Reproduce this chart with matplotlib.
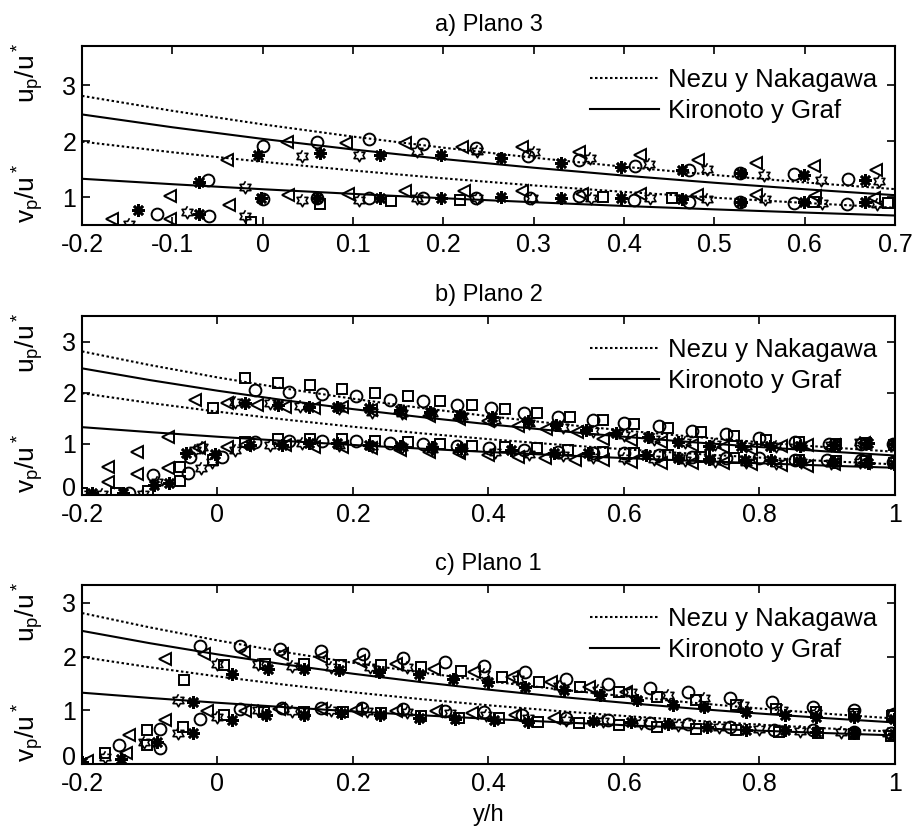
import numpy as np
import matplotlib
matplotlib.use('Agg')
import matplotlib.pyplot as plt
from matplotlib.transforms import ScaledTranslation

plt.rcParams['font.family'] = ['Liberation Sans', 'DejaVu Sans']
plt.rcParams['mathtext.default'] = 'regular'
plt.rcParams['font.size'] = 17

# model curves
curve_x = [-0.2, -0.1, 0.0, 0.1, 0.2, 0.3, 0.4, 0.5, 0.6, 0.7, 0.8, 0.9, 1.0]
nezu_u = [2.809, 2.542, 2.30, 2.081, 1.883, 1.704, 1.542, 1.395, 1.262, 1.142, 1.033, 0.935, 0.846]
nezu_v = [1.991, 1.801, 1.63, 1.475, 1.335, 1.208, 1.093, 0.989, 0.895, 0.809, 0.732, 0.663, 0.600]
kg_u = [2.477, 2.248, 2.04, 1.851, 1.680, 1.525, 1.384, 1.256, 1.140, 1.034, 0.939, 0.852, 0.773]
kg_v = [1.327, 1.230, 1.14, 1.057, 0.979, 0.908, 0.841, 0.780, 0.723, 0.670, 0.621, 0.575, 0.533]

# ---- a) Plano 3 ----
a_circ_x = [0.0, 0.06, 0.118, 0.177, 0.236, 0.294, 0.35, 0.412, 0.472, 0.529, 0.588, 0.648,
            -0.06, -0.117, -0.059, 0.0, 0.06, 0.118, 0.177, 0.236, 0.296, 0.35, 0.411, 0.472, 0.529, 0.588, 0.647]
a_circ_y = [1.91, 1.99, 2.04, 1.94, 1.87, 1.74, 1.67, 1.55, 1.49, 1.43, 1.42, 1.33,
            1.30, 0.70, 0.66, 0.96, 0.98, 0.99, 0.99, 0.99, 0.98, 1.02, 0.95, 0.92, 0.92, 0.89, 0.87]
a_sq_x = [-0.013, 0.063, 0.142, 0.219, 0.377, 0.453, 0.61, 0.692]
a_sq_y = [0.56, 0.87, 0.93, 0.95, 1.0, 0.98, 0.92, 0.90]
a_tri_x = [-0.04, 0.027, 0.092, 0.158, 0.221, 0.287, 0.35, 0.418, 0.482, 0.546, 0.61, 0.679,
           -0.167, -0.103, -0.103, -0.037, 0.028, 0.094, 0.158, 0.223, 0.287, 0.353, 0.418, 0.481, 0.546, 0.612, 0.677]
a_tri_y = [1.66, 1.98, 1.96, 1.96, 1.90, 1.89, 1.81, 1.75, 1.67, 1.61, 1.55, 1.49,
           0.60, 0.60, 1.02, 0.86, 1.03, 1.05, 1.11, 1.11, 1.10, 1.06, 1.06, 1.03, 1.03, 1.02, 0.99]
a_ast_x = [-0.005, 0.063, 0.13, 0.197, 0.264, 0.33, 0.397, 0.464, 0.53, 0.599, 0.667,
           -0.138, -0.071, -0.071, -0.002, 0.06, 0.13, 0.197, 0.264, 0.33, 0.397, 0.464, 0.53, 0.599, 0.667]
a_ast_y = [1.75, 1.78, 1.75, 1.75, 1.69, 1.61, 1.54, 1.48, 1.43, 1.39, 1.31,
           0.77, 1.27, 0.70, 0.99, 0.99, 0.99, 0.99, 1.0, 0.98, 0.99, 0.96, 0.92, 0.92, 0.92]
a_hex_x = [0.044, 0.107, 0.171, 0.237, 0.30, 0.362, 0.428, 0.492, 0.555, 0.618, 0.682,
           -0.148, -0.084, -0.02, -0.02, 0.044, 0.107, 0.171, 0.237, 0.298, 0.363, 0.429, 0.492, 0.556, 0.619, 0.68]
a_hex_y = [1.73, 1.76, 1.82, 1.83, 1.81, 1.70, 1.60, 1.51, 1.39, 1.31, 1.29,
           0.51, 0.74, 1.18, 0.66, 0.95, 0.95, 0.98, 0.99, 0.98, 0.99, 0.98, 0.96, 0.96, 0.90, 0.87]

# ---- b) Plano 2 ----
b_circ_x = [0.056, 0.105, 0.155, 0.204, 0.255, 0.304, 0.353, 0.404, 0.453, 0.502, 0.554, 0.60, 0.652,
            0.70, 0.751, 0.80, 0.852, 0.903, 0.95, 0.997,
            -0.13, -0.095, -0.043, -0.04, 0.007, 0.056, 0.105, 0.154, 0.204, 0.255, 0.304, 0.353, 0.401,
            0.453, 0.502, 0.554, 0.60, 0.652, 0.70, 0.751, 0.80, 0.852, 0.90, 0.95, 0.997]
b_circ_y = [2.05, 2.01, 1.97, 1.93, 1.86, 1.83, 1.76, 1.70, 1.60, 1.53, 1.47, 1.40, 1.34,
            1.26, 1.20, 1.11, 1.03, 1.00, 1.00, 1.00,
            0.03, 0.39, 0.43, 0.75, 0.75, 1.04, 1.06, 1.06, 1.06, 1.02, 1.0, 0.95, 0.91,
            0.88, 0.85, 0.83, 0.82, 0.78, 0.75, 0.72, 0.72, 0.69, 0.69, 0.69, 0.64]
b_sq_x = [-0.006, 0.041, 0.09, 0.137, 0.184, 0.233, 0.281, 0.329, 0.376, 0.424, 0.472, 0.52, 0.569,
          0.615, 0.665, 0.714, 0.762, 0.81, 0.859, 0.913, 0.957, 0.998,
          -0.2, -0.15, -0.102, -0.055, -0.055, -0.006, 0.041, 0.09, 0.137, 0.184, 0.233, 0.281, 0.329,
          0.376, 0.424, 0.472, 0.517, 0.569, 0.615, 0.665, 0.714, 0.763, 0.859, 0.913, 0.957, 0.998]
b_sq_y = [1.70, 2.29, 2.20, 2.16, 2.07, 1.99, 1.94, 1.83, 1.76, 1.68, 1.61, 1.53, 1.47,
          1.38, 1.31, 1.24, 1.16, 1.08, 1.03, 1.00, 1.01, 0.97,
          0.03, 0.03, 0.07, 0.28, 0.54, 0.69, 1.04, 1.09, 1.09, 1.09, 1.06, 1.04, 1.0,
          0.96, 0.93, 0.91, 0.88, 0.85, 0.82, 0.78, 0.75, 0.72, 0.69, 0.67, 0.67, 0.62]
b_tri_x = [-0.033, 0.014, 0.058, 0.10, 0.142, 0.184, 0.226, 0.27, 0.312, 0.356, 0.40, 0.443, 0.485,
           0.53, 0.569, 0.61, 0.655, 0.70, 0.746, 0.788, 0.832, 0.87, 0.91, 0.955,
           -0.162, -0.162, -0.119, -0.119, -0.073, -0.073, -0.028, 0.014, 0.041, 0.10, 0.142, 0.184,
           0.227, 0.27, 0.312, 0.356, 0.40, 0.443, 0.483, 0.527, 0.569, 0.61, 0.655, 0.70, 0.746,
           0.788, 0.832, 0.87, 0.91, 0.955]
b_tri_y = [1.86, 1.79, 1.76, 1.73, 1.70, 1.73, 1.67, 1.61, 1.54, 1.48, 1.44, 1.34, 1.29,
           1.24, 1.09, 1.08, 1.03, 0.98, 0.93, 0.90, 0.95, 0.98, 0.98, 1.02,
           0.55, 0.25, 0.84, 0.41, 1.14, 0.52, 0.91, 0.93, 0.98, 0.98, 0.93, 0.93,
           0.91, 0.89, 0.85, 0.82, 0.78, 0.75, 0.72, 0.69, 0.69, 0.65, 0.62, 0.62, 0.63,
           0.61, 0.59, 0.57, 0.60, 0.62]
b_ast_x = [0.041, 0.09, 0.135, 0.176, 0.223, 0.27, 0.314, 0.358, 0.405, 0.458, 0.50, 0.544, 0.588,
           0.635, 0.68, 0.726, 0.773, 0.815, 0.86, 0.91, 0.96, 0.998,
           -0.185, -0.14, -0.094, -0.071, -0.047, -0.003, 0.048, 0.095, 0.135, 0.176, 0.223, 0.27,
           0.316, 0.36, 0.433, 0.497, 0.547, 0.633, 0.68, 0.726, 0.778, 0.817, 0.86, 0.91, 0.96, 0.998]
b_ast_y = [1.79, 1.76, 1.73, 1.73, 1.70, 1.67, 1.63, 1.57, 1.52, 1.44, 1.37, 1.27, 1.21,
           1.14, 1.045, 0.96, 0.95, 0.95, 0.96, 0.98, 1.01, 0.99,
           0.03, 0.03, 0.20, 0.23, 0.82, 0.80, 0.98, 0.98, 1.01, 1.02, 0.98, 0.96,
           0.93, 0.91, 0.89, 0.83, 0.82, 0.78, 0.72, 0.70, 0.69, 0.69, 0.66, 0.64, 0.63, 0.61]
b_hex_x = [0.026, 0.078, 0.122, 0.179, 0.228, 0.272, 0.317, 0.361, 0.41, 0.46, 0.51, 0.555, 0.60,
           0.645, 0.69, 0.735, 0.78, 0.825, 0.861, 0.905, 0.948,
           -0.2, -0.17, -0.11, -0.09, -0.033, -0.023, -0.025, -0.008, 0.026, 0.078, 0.125, 0.179,
           0.228, 0.272, 0.317, 0.361, 0.41, 0.46, 0.51, 0.555, 0.60, 0.645, 0.69, 0.735, 0.78,
           0.825, 0.861, 0.905, 0.948]
b_hex_y = [1.82, 1.79, 1.74, 1.70, 1.63, 1.60, 1.60, 1.54, 1.47, 1.40, 1.33, 1.25, 1.18,
           1.10, 1.04, 0.99, 0.96, 0.95, 0.98, 0.98, 1.03,
           0.02, 0.02, 0.02, 0.25, 0.89, 0.93, 0.52, 0.65, 0.89, 0.98, 1.01, 0.98,
           0.96, 0.93, 0.90, 0.87, 0.84, 0.80, 0.78, 0.75, 0.73, 0.70, 0.68, 0.66, 0.65,
           0.63, 0.64, 0.63, 0.64]

# ---- c) Plano 1 ----
c_circ_x = [-0.026, 0.033, 0.093, 0.153, 0.215, 0.274, 0.336, 0.393, 0.454, 0.515, 0.577, 0.638,
            0.695, 0.756, 0.818, 0.879, 0.94, 0.998,
            -0.146, -0.085, -0.085, -0.026, 0.033, 0.095, 0.153, 0.213, 0.274, 0.336, 0.393, 0.45,
            0.515, 0.577, 0.638, 0.695, 0.756, 0.821, 0.879, 0.94, 0.994]
c_circ_y = [2.19, 2.19, 2.14, 2.11, 2.05, 1.98, 1.89, 1.83, 1.71, 1.59, 1.49, 1.42,
            1.34, 1.22, 1.15, 1.07, 1.01, 0.93,
            0.35, 0.66, 0.29, 0.83, 1.03, 1.05, 1.05, 1.05, 1.03, 0.99, 0.97, 0.91,
            0.86, 0.81, 0.76, 0.74, 0.69, 0.64, 0.63, 0.60, 0.57]
c_sq_x = [-0.049, 0.01, 0.07, 0.127, 0.183, 0.242, 0.30, 0.359, 0.42, 0.475, 0.535, 0.592, 0.649,
          0.707, 0.766, 0.825, 0.883, 0.94, 0.995,
          -0.166, -0.104, -0.104, -0.051, 0.01, 0.068, 0.127, 0.186, 0.242, 0.30, 0.357, 0.416,
          0.473, 0.533, 0.592, 0.649, 0.707, 0.766, 0.829, 0.886, 0.94, 0.994]
c_sq_y = [1.57, 1.84, 1.86, 1.87, 1.85, 1.85, 1.80, 1.73, 1.62, 1.52, 1.43, 1.34, 1.25,
          1.19, 1.09, 1.03, 0.96, 0.93, 0.90,
          0.20, 0.64, 0.35, 0.69, 0.91, 0.97, 0.97, 0.97, 0.95, 0.89, 0.86, 0.85,
          0.78, 0.76, 0.72, 0.69, 0.66, 0.63, 0.60, 0.58, 0.56, 0.52]
c_tri_x = [-0.078, -0.02, 0.039, 0.095, 0.153, 0.209, 0.263, 0.32, 0.378, 0.435, 0.492, 0.548, 0.603,
           -0.192, -0.135, -0.131, -0.078, -0.016, 0.041, 0.091, 0.153, 0.205, 0.263, 0.322, 0.375,
           0.439, 0.496]
c_tri_y = [1.96, 2.05, 2.08, 2.05, 1.99, 1.91, 1.86, 1.77, 1.71, 1.62, 1.52, 1.43, 1.34,
           0.06, 0.20, 0.54, 0.81, 0.99, 0.99, 1.03, 1.03, 1.01, 0.99, 0.98, 0.95,
           0.91, 0.86]
c_ast_x = [0.022, 0.074, 0.127, 0.179, 0.238, 0.297, 0.347, 0.40, 0.454, 0.512, 0.565, 0.619, 0.672,
           0.718, 0.78, 0.837, 0.883, 0.94, 0.998,
           -0.2, -0.143, -0.089, -0.036, -0.036, 0.022, 0.072, 0.127, 0.183, 0.24, 0.297, 0.351,
           0.408, 0.458, 0.554, 0.611, 0.665, 0.722, 0.78, 0.837, 0.883, 0.94, 0.998]
c_ast_y = [1.68, 1.77, 1.77, 1.75, 1.71, 1.68, 1.59, 1.52, 1.43, 1.37, 1.28, 1.19, 1.09,
           1.06, 0.97, 0.91, 0.88, 0.88, 0.83,
           0.03, 0.10, 0.41, 0.57, 1.15, 0.82, 0.91, 0.91, 0.94, 0.91, 0.86, 0.83,
           0.81, 0.78, 0.80, 0.78, 0.74, 0.69, 0.63, 0.63, 0.60, 0.58, 0.55]
c_hex_x = [0.0, 0.06, 0.11, 0.167, 0.225, 0.28, 0.393, 0.443, 0.504, 0.561, 0.611, 0.665, 0.718,
           0.776, 0.834, 0.883, 0.94,
           -0.166, -0.108, -0.058, -0.058, 0.0, 0.06, 0.11, 0.167, 0.221, 0.28, 0.343, 0.397,
           0.458, 0.515, 0.569, 0.625, 0.68, 0.74, 0.80, 0.86, 0.92, 0.99]
c_hex_y = [1.86, 1.86, 1.83, 1.80, 1.80, 1.80, 1.68, 1.59, 1.46, 1.37, 1.34, 1.28, 1.22,
           1.09, 1.0, 0.94, 0.93,
           0.13, 0.41, 0.57, 1.19, 0.88, 1.01, 0.99, 1.01, 0.99, 0.97, 0.94, 0.91,
           0.86, 0.81, 0.80, 0.76, 0.72, 0.68, 0.65, 0.62, 0.60, 0.58]

# hexagram marker (MATLAB 'h')
ang = np.deg2rad(90 + 30 * np.arange(12))
rad = np.where(np.arange(12) % 2 == 0, 1.0, 1 / np.sqrt(3))
hexagram = list(zip(rad * np.cos(ang), rad * np.sin(ang)))

mk_style = {
    'circ': dict(marker='o', ms=8.5, mew=1.4),
    'sq': dict(marker='s', ms=7.5, mew=1.4),
    'tri': dict(marker='<', ms=9, mew=1.4),
    'ast': dict(marker=(8, 2, 0), ms=9, mew=1.9),
    'hex': dict(marker=hexagram, ms=9, mew=1.2),
}


def draw_panel(rect, title, xmax, ylim, xticks, xlabels, yticks, pts):
    ax = fig.add_axes(rect)
    n = 10 if xmax < 1 else 13
    ax.plot(curve_x[:n], nezu_u[:n], color='k', ls=(0, (1.2, 1.2)), lw=1.5, label='Nezu y Nakagawa')
    ax.plot(curve_x[:n], kg_u[:n], color='k', ls='-', lw=1.5, label='Kironoto y Graf')
    ax.plot(curve_x[:n], nezu_v[:n], color='k', ls=(0, (1.2, 1.2)), lw=1.5)
    ax.plot(curve_x[:n], kg_v[:n], color='k', ls='-', lw=1.5)
    for key, (xs, ys) in pts.items():
        st = mk_style[key]
        ax.plot(xs, ys, ls='none', marker=st['marker'], ms=st['ms'], mew=st['mew'],
                mfc='none', mec='k')
    ax.set_xlim(-0.2, xmax)
    ax.set_ylim(*ylim)
    ax.set_xticks(xticks)
    ax.set_xticklabels(xlabels)
    ax.set_yticks(yticks)
    ax.tick_params(direction='in', length=6, width=1.2, top=True, right=True, labelsize=18)
    ax.tick_params(axis='x', pad=5.5)
    ax.tick_params(axis='y', pad=4)
    # lift the "0" label a little so it clears the "-0.2" below it
    if yticks[0] == 0:
        lab = ax.yaxis.get_major_ticks()[0].label1
        lab.set_transform(lab.get_transform() + ScaledTranslation(0, 0.085, fig.dpi_scale_trans))
    for s in ax.spines.values():
        s.set_linewidth(1.5)
    ax.set_title(title, fontsize=17, pad=11)
    ax.text(-0.066, 0.85, '$u_p/u^*$', transform=ax.transAxes, rotation=90,
            ha='center', va='center', fontsize=19)
    ax.text(-0.066, 0.175, '$v_p/u^*$', transform=ax.transAxes, rotation=90,
            ha='center', va='center', fontsize=19)
    ax.legend(loc='upper right', bbox_to_anchor=(0.991, 0.935), borderaxespad=0,
              frameon=False, fontsize=18.5, handlelength=2.7,
              handletextpad=0.35, labelspacing=0.26)
    return ax


fig = plt.figure(figsize=(9.15, 8.31), dpi=100)

draw_panel([0.0896, 0.7292, 0.8885, 0.2154], 'a) Plano 3', 0.7, (0.5, 3.7),
           [-0.2, -0.1, 0, 0.1, 0.2, 0.3, 0.4, 0.5, 0.6, 0.7],
           ['-0.2', '-0.1', '0', '0.1', '0.2', '0.3', '0.4', '0.5', '0.6', '0.7'],
           [1, 2, 3],
           {'circ': (a_circ_x, a_circ_y), 'sq': (a_sq_x, a_sq_y), 'tri': (a_tri_x, a_tri_y),
            'ast': (a_ast_x, a_ast_y), 'hex': (a_hex_x, a_hex_y)})

xt = [-0.2, 0, 0.2, 0.4, 0.6, 0.8, 1.0]
xl = ['-0.2', '0', '0.2', '0.4', '0.6', '0.8', '1']
draw_panel([0.0896, 0.4043, 0.8885, 0.2154], 'b) Plano 2', 1.0, (0, 3.5), xt, xl, [0, 1, 2, 3],
           {'circ': (b_circ_x, b_circ_y), 'sq': (b_sq_x, b_sq_y), 'tri': (b_tri_x, b_tri_y),
            'ast': (b_ast_x, b_ast_y), 'hex': (b_hex_x, b_hex_y)})

ax_c = draw_panel([0.0896, 0.0806, 0.8885, 0.2154], 'c) Plano 1', 1.0, (0, 3.33), xt, xl, [0, 1, 2, 3],
                  {'circ': (c_circ_x, c_circ_y), 'sq': (c_sq_x, c_sq_y), 'tri': (c_tri_x, c_tri_y),
                   'ast': (c_ast_x, c_ast_y), 'hex': (c_hex_x, c_hex_y)})
ax_c.set_xlabel('y/h', fontsize=17, labelpad=6)

fig.savefig('out.png', dpi=100)
